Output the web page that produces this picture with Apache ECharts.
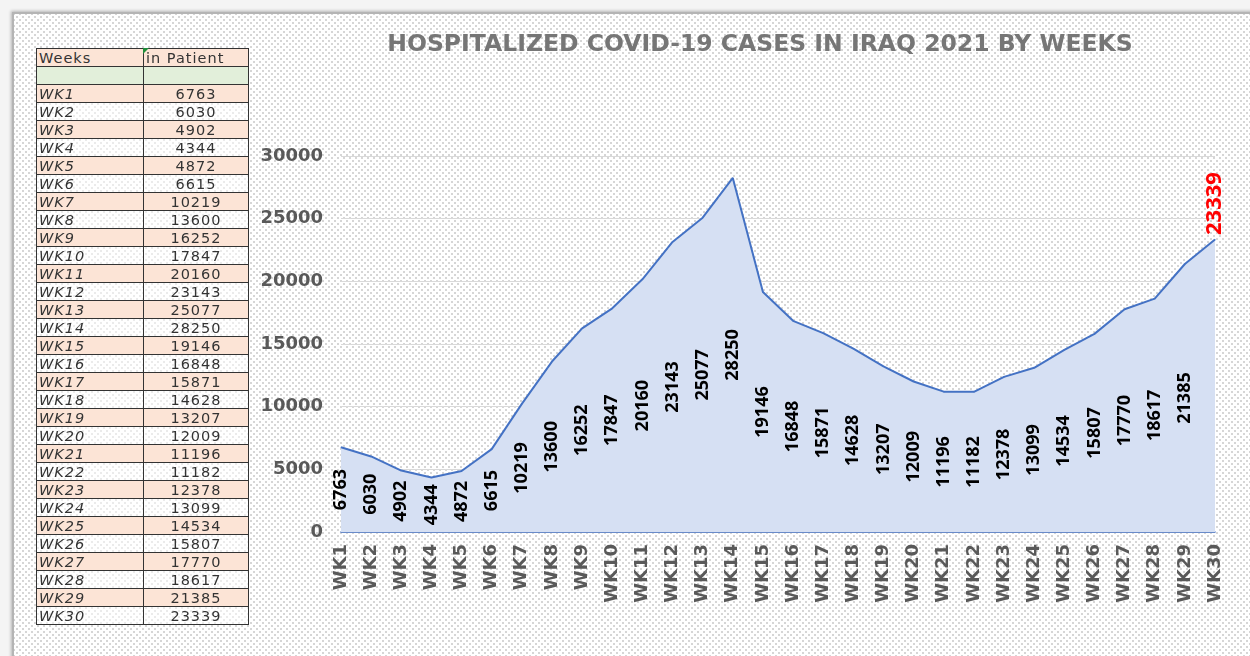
<!DOCTYPE html>
<html><head><meta charset="utf-8">
<script src="https://cdn.jsdelivr.net/npm/echarts@6/dist/echarts.min.js"></script>
<style>
html,body{margin:0;padding:0;width:1250px;height:656px;overflow:hidden;background:#f4f4f4;}
#wrap{position:absolute;left:12px;top:12px;width:1250px;height:656px;background-color:#fff;
  background-image:radial-gradient(circle,#d6d6d6 0.8px,transparent 1.1px),radial-gradient(circle,#d6d6d6 0.8px,transparent 1.1px);
  background-size:6px 6px,6px 6px;background-position:0 0,3px 3px;
  border-left:2px solid #b5b5b5;border-top:2px solid #b5b5b5;box-shadow:-1px -1px 3px rgba(0,0,0,0.25);}
#chart{position:absolute;left:0;top:0;width:1250px;height:656px;}
#tbl{position:absolute;left:36px;top:48px;border-collapse:collapse;font-family:'DejaVu Sans',sans-serif;font-size:14.5px;color:#333;table-layout:fixed;}
#tbl td{border:1px solid #333;height:18px;padding:0 2px;line-height:16px;box-sizing:border-box;overflow:hidden;white-space:nowrap;letter-spacing:1px;}
#tbl td.wk{font-style:italic;text-align:left;}
#tbl td.val{text-align:center;}
#tbl tr.odd td{background:#fce4d6;}
#tbl tr.even td{background:rgba(255,255,255,0.5);}
#tbl tr.green td{background:#e2efda;}
#tbl tr.head td{background:#fce4d6;}
#tri{position:absolute;left:143px;top:48px;width:0;height:0;border-top:6px solid #1e8c3a;border-right:6px solid transparent;}
</style></head>
<body>
<div id="wrap"></div>
<div id="chart"></div>
<table id="tbl"></table>
<div id="tri"></div>
<script>
const weeks = ['WK1','WK2','WK3','WK4','WK5','WK6','WK7','WK8','WK9','WK10','WK11','WK12','WK13','WK14','WK15','WK16','WK17','WK18','WK19','WK20','WK21','WK22','WK23','WK24','WK25','WK26','WK27','WK28','WK29','WK30'];
const inPatient = [6763,6030,4902,4344,4872,6615,10219,13600,16252,17847,20160,23143,25077,28250,19146,16848,15871,14628,13207,12009,11196,11182,12378,13099,14534,15807,17770,18617,21385,23339];
const tableHeaders = ['Weeks','in Patient'];
const titleText = 'HOSPITALIZED COVID-19 CASES IN IRAQ 2021 BY WEEKS';
const yMin = 0, yMax = 30000, yInterval = 5000;

// build table
const tbl = document.getElementById('tbl');
let html = '<colgroup><col style="width:107px"><col style="width:105px"></colgroup>';
html += '<tr class="head"><td>' + tableHeaders[0] + '</td><td>' + tableHeaders[1] + '</td></tr>';
html += '<tr class="green"><td></td><td></td></tr>';
weeks.forEach((w, i) => {
  html += '<tr class="' + (i % 2 === 0 ? 'odd' : 'even') + '"><td class="wk">' + w + '</td><td class="val">' + inPatient[i] + '</td></tr>';
});
tbl.innerHTML = html;

const chart = echarts.init(document.getElementById('chart'), null, {renderer: 'canvas'});
const last = inPatient.length - 1;
const option = {
  backgroundColor: 'transparent',
  animation: false,
  title: {
    text: titleText,
    left: 755, top: 28, textAlign: 'center',
    textStyle: {fontFamily: 'DejaVu Sans', fontSize: 23.5, fontWeight: 'bold', color: '#767676'}
  },
  grid: {left: 341, right: 35, top: 156, bottom: 124, containLabel: false},
  xAxis: {
    type: 'category', data: weeks, boundaryGap: false,
    axisTick: {show: false},
    axisLine: {show: true, lineStyle: {color: '#4472c4', width: 1.5}},
    axisLabel: {interval: 0, rotate: 90, margin: 12, fontFamily: 'DejaVu Sans', fontSize: 18, fontWeight: 'bold', color: '#595959'}
  },
  yAxis: {
    type: 'value', min: yMin, max: yMax, interval: yInterval,
    axisLine: {show: false}, axisTick: {show: false},
    splitLine: {lineStyle: {color: '#d9d9d9', width: 1}},
    axisLabel: {margin: 18, fontFamily: 'DejaVu Sans', fontSize: 18, fontWeight: 'bold', color: '#595959',
      formatter: v => String(v)}
  },
  series: [
    {
      type: 'line', data: inPatient.map((v, i) => i === last ? {
        value: v,
        label: {show: true, position: 'top', rotate: 90, align: 'left', verticalAlign: 'middle', distance: 4,
          color: '#ff0000', fontSize: 22, fontWeight: 'bold', fontFamily: 'Open Sans'}
      } : v),
      symbol: 'circle', symbolSize: 1, showSymbol: true,
      itemStyle: {color: '#4472c4'},
      lineStyle: {color: '#4472c4', width: 2},
      areaStyle: {color: '#d6e0f3', opacity: 1},
      z: 2
    },
    {
      type: 'bar', data: inPatient.map((v, i) => i === last ? {value: v, label: {show: false}} : v),
      barWidth: 2, itemStyle: {color: 'rgba(0,0,0,0)'},
      label: {show: true, position: 'inside', rotate: 90, color: '#000', fontSize: 18, fontWeight: 'bold', fontFamily: 'Open Sans'},
      z: 3, silent: true
    }
  ]
};
chart.setOption(option);
</script>
</body></html>
